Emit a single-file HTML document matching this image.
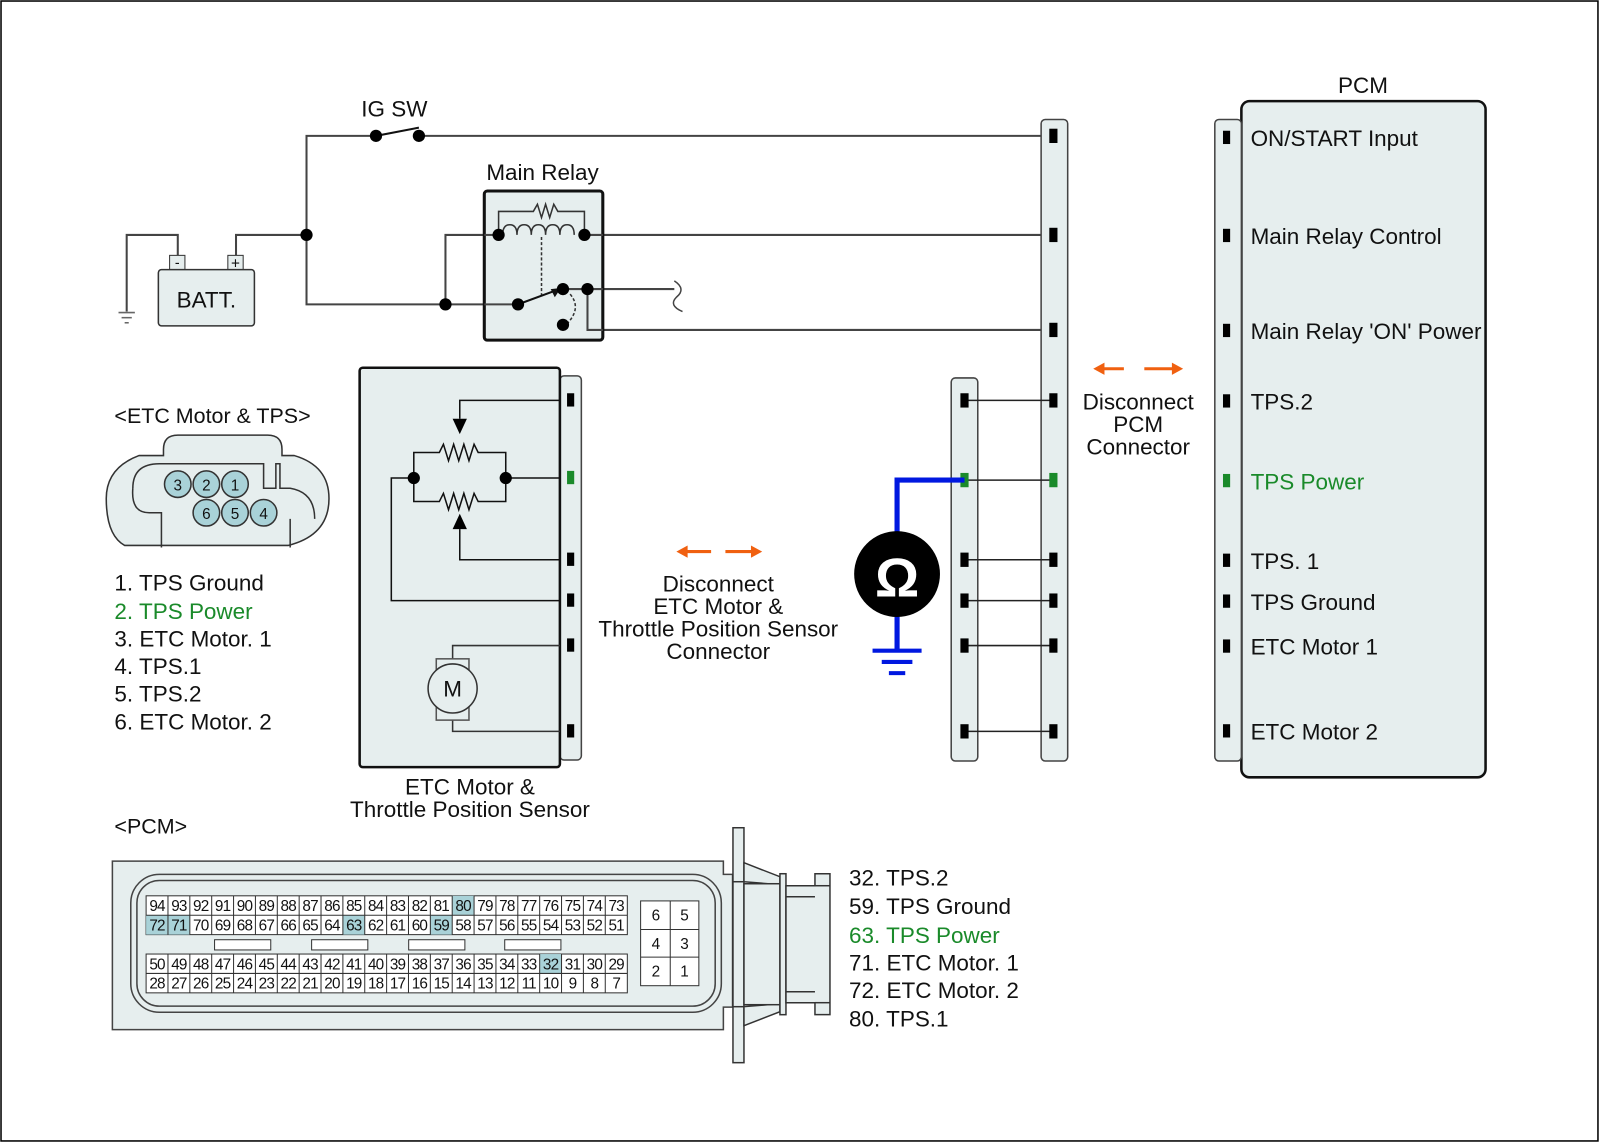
<!DOCTYPE html>
<html><head><meta charset="utf-8"><style>
html,body{margin:0;padding:0;background:#fff}
svg{display:block}
text{font-family:"Liberation Sans",Arial,sans-serif;fill:#111}
</style></head><body>
<svg width="1600" height="1143" viewBox="0 0 1566 1119" preserveAspectRatio="none" xmlns="http://www.w3.org/2000/svg">
<rect x="1" y="1" width="1563" height="1116" fill="#fff" stroke="#000" stroke-width="1.5"/>
<g fill="none" stroke="#444" stroke-width="2">
<polyline points="1030,133 410,133"/>
<polyline points="368,133 300,133 300,298 507,298"/>
<line x1="368" y1="133" x2="410" y2="125" stroke="#111"/>
<polyline points="300,230 231,230 231,252"/>
<polyline points="174,252 174,230 124,230 124,305"/>
<polyline points="436,298 436,230 488,230"/>
<line x1="572" y1="230" x2="1030" y2="230"/>
<polyline points="575,283 575,323 1030,323"/>
<polyline points="551,283 660,283"/>
</g>
<path d="M660,275 q12,8 2,16 q-8,8 6,14" fill="none" stroke="#444" stroke-width="1.5"/>
<g stroke="#666" stroke-width="1.5"><line x1="116" y1="306" x2="132" y2="306"/><line x1="119" y1="311" x2="129" y2="311"/><line x1="122" y1="316" x2="126" y2="316"/></g>
<rect x="166" y="250" width="15" height="15" fill="#e6eeee" stroke="#333"/>
<rect x="223" y="250" width="15" height="15" fill="#e6eeee" stroke="#333"/>
<text x="173.5" y="262" font-size="14" text-anchor="middle">-</text>
<text x="230.5" y="263" font-size="15" text-anchor="middle">+</text>
<rect x="155" y="264" width="94" height="55" rx="3" fill="#e6eeee" stroke="#333" stroke-width="1.5"/>
<text x="202" y="301" font-size="22" text-anchor="middle">BATT.</text>
<text x="386" y="114" font-size="22" text-anchor="middle">IG SW</text>
<text x="531" y="176" font-size="22" text-anchor="middle">Main Relay</text>
<rect x="474" y="187" width="116" height="146" rx="3" fill="#e6eeee" stroke="#111" stroke-width="3"/>
<g fill="none" stroke="#444" stroke-width="2">
<line x1="474" y1="230" x2="488" y2="230"/>
<line x1="572" y1="230" x2="590" y2="230"/>
<line x1="474" y1="298" x2="507" y2="298"/>
<line x1="551" y1="283" x2="590" y2="283"/>
<polyline points="575,283 575,323 590,323"/>
</g>
<g fill="none" stroke="#333" stroke-width="1.5">
<polyline points="488,230 488,207 522,207 526,200 530,213 534,200 538,213 542,200 546,207 572,207 572,230"/>
<path d="M492,230 q0,-10 7,-10 q7,0 7,10 q0,-10 7,-10 q7,0 7,10 q0,-10 7,-10 q7,0 7,10 q0,-10 7,-10 q7,0 7,10 q0,-10 7,-10 q7,0 7,10"/>
<line x1="530" y1="232" x2="530" y2="290" stroke-dasharray="3,2"/>
<path d="M558,288 q12,14 -4,30" stroke-dasharray="3,2"/>
<line x1="507" y1="298" x2="545" y2="284" stroke="#111" stroke-width="2"/>
</g>
<polygon points="549,282 539,283 543,291" fill="#111"/>
<g fill="#000">
<circle cx="368" cy="133" r="6"/><circle cx="410" cy="133" r="6"/>
<circle cx="300" cy="230" r="6"/><circle cx="436" cy="298" r="6"/>
<circle cx="488" cy="230" r="6"/><circle cx="572" cy="230" r="6"/>
<circle cx="507" cy="298" r="6"/><circle cx="551" cy="283" r="6"/>
<circle cx="575" cy="283" r="6"/><circle cx="551" cy="318" r="6"/>
</g>
<rect x="1019" y="117" width="26" height="628" rx="4" fill="#e6eeee" stroke="#444" stroke-width="1.5"/>
<rect x="931" y="370" width="26" height="375" rx="4" fill="#e6eeee" stroke="#444" stroke-width="1.5"/>
<g stroke="#222" stroke-width="1.5">
<line x1="944" y1="392" x2="1031" y2="392"/><line x1="944" y1="470" x2="1031" y2="470"/>
<line x1="944" y1="548" x2="1031" y2="548"/><line x1="944" y1="588" x2="1031" y2="588"/>
<line x1="944" y1="632" x2="1031" y2="632"/><line x1="944" y1="716" x2="1031" y2="716"/>
</g>
<g fill="#000">
<rect x="1027" y="126" width="8" height="14"/><rect x="1027" y="223" width="8" height="14"/>
<rect x="1027" y="316" width="8" height="14"/><rect x="1027" y="385" width="8" height="14"/>
<rect x="1027" y="541" width="8" height="14"/><rect x="1027" y="581" width="8" height="14"/>
<rect x="1027" y="625" width="8" height="14"/><rect x="1027" y="709" width="8" height="14"/>
<rect x="940" y="385" width="8" height="14"/><rect x="940" y="541" width="8" height="14"/>
<rect x="940" y="581" width="8" height="14"/><rect x="940" y="625" width="8" height="14"/>
<rect x="940" y="709" width="8" height="14"/>
</g>
<rect x="1027" y="463" width="8" height="14" fill="#1a8a2a"/>
<rect x="940" y="463" width="8" height="14" fill="#1a8a2a"/>
<polyline points="944,470 878,470 878,522" fill="none" stroke="#0018e0" stroke-width="5"/>
<line x1="878" y1="602" x2="878" y2="637" stroke="#0018e0" stroke-width="5"/>
<g stroke="#0018e0" stroke-width="4"><line x1="854" y1="637" x2="902" y2="637"/><line x1="863" y1="648" x2="893" y2="648"/><line x1="870" y1="659" x2="886" y2="659"/></g>
<circle cx="878" cy="562" r="42" fill="#000"/>
<text x="878" y="584" font-size="54" font-weight="bold" text-anchor="middle" style="fill:#fff">Ω</text>
<g stroke="#f06010" stroke-width="3">
<line x1="1078" y1="361" x2="1100" y2="361"/><line x1="1120" y1="361" x2="1150" y2="361"/>
<line x1="670" y1="540" x2="696" y2="540"/><line x1="710" y1="540" x2="738" y2="540"/>
</g>
<g fill="#f06010">
<polygon points="1070,361 1081,355 1081,367"/><polygon points="1158,361 1147,355 1147,367"/>
<polygon points="662,540 673,534 673,546"/><polygon points="746,540 735,534 735,546"/>
</g>
<g font-size="22" text-anchor="middle">
<text x="1114" y="401">Disconnect</text><text x="1114" y="423">PCM</text><text x="1114" y="445">Connector</text>
<text x="703" y="579">Disconnect</text><text x="703" y="601">ETC Motor &amp;</text><text x="703" y="623">Throttle Position Sensor</text><text x="703" y="645">Connector</text>
<text x="460" y="778">ETC Motor &amp;</text><text x="460" y="800">Throttle Position Sensor</text>
</g>
<text x="1334" y="91" font-size="22" text-anchor="middle">PCM</text>
<rect x="1215" y="99" width="239" height="662" rx="8" fill="#e6eeee" stroke="#111" stroke-width="2.5"/>
<rect x="1189" y="117" width="26" height="628" rx="4" fill="#e6eeee" stroke="#444" stroke-width="1.5"/>
<g fill="#000">
<rect x="1197" y="128" width="7" height="13"/><rect x="1197" y="224" width="7" height="13"/>
<rect x="1197" y="317" width="7" height="13"/><rect x="1197" y="386" width="7" height="13"/>
<rect x="1197" y="542" width="7" height="13"/><rect x="1197" y="582" width="7" height="13"/>
<rect x="1197" y="626" width="7" height="13"/><rect x="1197" y="709" width="7" height="13"/>
</g>
<rect x="1197" y="464" width="7" height="13" fill="#1a8a2a"/>
<g font-size="22">
<text x="1224" y="143">ON/START Input</text><text x="1224" y="239">Main Relay Control</text>
<text x="1224" y="332">Main Relay 'ON' Power</text><text x="1224" y="401">TPS.2</text>
<text x="1224" y="479" style="fill:#1a8a2a">TPS Power</text><text x="1224" y="557">TPS. 1</text>
<text x="1224" y="597">TPS Ground</text><text x="1224" y="641">ETC Motor 1</text>
<text x="1224" y="724">ETC Motor 2</text>
</g>
<rect x="548" y="368" width="21" height="376" rx="4" fill="#e6eeee" stroke="#444" stroke-width="1.5"/>
<rect x="352" y="360" width="196" height="391" rx="3" fill="#e6eeee" stroke="#111" stroke-width="2.5"/>
<g fill="none" stroke="#111" stroke-width="1.5">
<polyline points="548,392 450,392 450,410"/>
<polyline points="450,518 450,548 548,548"/>
<polyline points="405,468 383,468 383,588 548,588"/>
<line x1="495" y1="468" x2="548" y2="468"/>
<polyline points="405,468 405,443 430,443 434,435 439,451 444,435 449,451 454,435 459,451 464,435 468,443 495,443 495,468"/>
<polyline points="405,468 405,491 430,491 434,483 439,499 444,483 449,499 454,483 459,499 464,483 468,491 495,491 495,468"/>
<polyline points="443,645 443,632 548,632" stroke="#333"/>
<polyline points="443,705 443,716 548,716" stroke="#333"/>
</g>
<polygon points="443,410 457,410 450,425" fill="#000"/>
<polygon points="443,518 457,518 450,503" fill="#000"/>
<circle cx="405" cy="468" r="6" fill="#000"/><circle cx="495" cy="468" r="6" fill="#000"/>
<rect x="427" y="645" width="32" height="60" fill="none" stroke="#555" stroke-width="1.5"/>
<circle cx="443" cy="674" r="24" fill="#e6eeee" stroke="#333" stroke-width="1.5"/>
<text x="443" y="682" font-size="22" text-anchor="middle">M</text>
<g fill="#000">
<rect x="555" y="385" width="7" height="13"/><rect x="555" y="541" width="7" height="13"/>
<rect x="555" y="581" width="7" height="13"/><rect x="555" y="625" width="7" height="13"/>
<rect x="555" y="709" width="7" height="13"/>
</g>
<rect x="555" y="461" width="7" height="13" fill="#1a8a2a"/>
<text x="112" y="414" font-size="21">&lt;ETC Motor &amp; TPS&gt;</text>
<path d="M160,440 q0,-14 14,-14 h88 q14,0 14,14 v6 h12 q34,10 34,42 q0,36 -40,46 h-160 q-18,-10 -18,-46 q0,-30 32,-42 h24 z" fill="#e6eeee" stroke="#333" stroke-width="1.5"/>
<path d="M130,478 q0,-24 26,-24 h102 v24 h12 v-24 h4 v24 h10 q24,4 24,30 M130,478 q-2,24 16,24 h12 v34 M284,508 v28" fill="none" stroke="#333" stroke-width="1.5"/>
<g fill="#a9d2d8" stroke="#333" stroke-width="1.5">
<circle cx="174" cy="474" r="13"/><circle cx="202" cy="474" r="13"/><circle cx="230" cy="474" r="13"/>
<circle cx="202" cy="502" r="13"/><circle cx="230" cy="502" r="13"/><circle cx="258" cy="502" r="13"/>
</g>
<g font-size="15" text-anchor="middle">
<text x="174" y="480">3</text><text x="202" y="480">2</text><text x="230" y="480">1</text>
<text x="202" y="508">6</text><text x="230" y="508">5</text><text x="258" y="508">4</text>
</g>
<g font-size="22">
<text x="112" y="578">1. TPS Ground</text><text x="112" y="606" style="fill:#1a8a2a">2. TPS Power</text>
<text x="112" y="633">3. ETC Motor. 1</text><text x="112" y="660">4. TPS.1</text>
<text x="112" y="687">5. TPS.2</text><text x="112" y="714">6. ETC Motor. 2</text>
</g>
<text x="112" y="816" font-size="21">&lt;PCM&gt;</text>
<path d="M110,843 h598 v13 h9 v130 h-9 v22 h-598 z" fill="#e6eeee" stroke="#444" stroke-width="1.5"/>
<rect x="128" y="856" width="578" height="135" rx="28" fill="none" stroke="#444" stroke-width="1.5"/>
<rect x="134" y="862" width="566" height="123" rx="22" fill="none" stroke="#444" stroke-width="1.5"/>
<g transform="scale(0.9787)" stroke="#333" stroke-width="1.5" fill="#e6eeee">
<rect x="733" y="828" width="11" height="235"/>
<line x1="733" y1="882" x2="744" y2="882"/><line x1="733" y1="1007" x2="744" y2="1007"/>
<path d="M744,863 L780,877 V885 L744,882 Z"/>
<path d="M744,1026 L780,1012 V1004 L744,1007 Z"/>
<rect x="744" y="884" width="36" height="121"/>
<rect x="780" y="874" width="6" height="141"/>
<path d="M786,886 H815 V874 H830 V1015 H815 V1003 H786 Z"/>
<line x1="786" y1="897" x2="815" y2="897"/><line x1="815" y1="886" x2="830" y2="886"/>
<line x1="786" y1="992" x2="815" y2="992"/><line x1="815" y1="1003" x2="830" y2="1003"/>
</g>
<g font-size="22">
<text x="831" y="867">32. TPS.2</text><text x="831" y="895">59. TPS Ground</text>
<text x="831" y="923" style="fill:#1a8a2a">63. TPS Power</text><text x="831" y="950">71. ETC Motor. 1</text>
<text x="831" y="977">72. ETC Motor. 2</text><text x="831" y="1005">80. TPS.1</text>
</g>
<rect x="143" y="877" width="471" height="38" fill="#fff" stroke="#333"/>
<rect x="143" y="934" width="471" height="38" fill="#fff" stroke="#333"/>
<rect x="442.6" y="877" width="21.4" height="19" fill="#a9d2d8"/>
<rect x="143" y="896" width="42.8" height="19" fill="#a9d2d8"/>
<rect x="335.6" y="896" width="21.4" height="19" fill="#a9d2d8"/>
<rect x="421.2" y="896" width="21.4" height="19" fill="#a9d2d8"/>
<rect x="528.2" y="934" width="21.4" height="19" fill="#a9d2d8"/>
<g fill="#fff" stroke="#333"><rect x="210" y="920" width="55" height="10"/><rect x="305" y="920" width="55" height="10"/><rect x="400" y="920" width="55" height="10"/><rect x="494" y="920" width="55" height="10"/></g>
<rect x="627" y="882" width="57" height="83" fill="#fff" stroke="#333"/>
<g stroke="#333"><line x1="656" y1="882" x2="656" y2="965"/><line x1="627" y1="910" x2="684" y2="910"/><line x1="627" y1="937" x2="684" y2="937"/></g>
<g font-size="15" text-anchor="middle"><text x="642" y="901">6</text><text x="670" y="901">5</text><text x="642" y="929">4</text><text x="670" y="929">3</text><text x="642" y="956">2</text><text x="670" y="956">1</text></g>
<g stroke="#333" stroke-width="1">
<line x1="143" y1="896" x2="614" y2="896"/><line x1="143" y1="953" x2="614" y2="953"/>
<line x1="164.4" y1="877" x2="164.4" y2="915"/><line x1="185.8" y1="877" x2="185.8" y2="915"/><line x1="207.2" y1="877" x2="207.2" y2="915"/><line x1="228.6" y1="877" x2="228.6" y2="915"/><line x1="250" y1="877" x2="250" y2="915"/><line x1="271.4" y1="877" x2="271.4" y2="915"/><line x1="292.8" y1="877" x2="292.8" y2="915"/><line x1="314.2" y1="877" x2="314.2" y2="915"/><line x1="335.6" y1="877" x2="335.6" y2="915"/><line x1="357" y1="877" x2="357" y2="915"/><line x1="378.4" y1="877" x2="378.4" y2="915"/><line x1="399.8" y1="877" x2="399.8" y2="915"/><line x1="421.2" y1="877" x2="421.2" y2="915"/><line x1="442.6" y1="877" x2="442.6" y2="915"/><line x1="464" y1="877" x2="464" y2="915"/><line x1="485.4" y1="877" x2="485.4" y2="915"/><line x1="506.8" y1="877" x2="506.8" y2="915"/><line x1="528.2" y1="877" x2="528.2" y2="915"/><line x1="549.6" y1="877" x2="549.6" y2="915"/><line x1="571" y1="877" x2="571" y2="915"/><line x1="592.4" y1="877" x2="592.4" y2="915"/>
<line x1="164.4" y1="934" x2="164.4" y2="972"/><line x1="185.8" y1="934" x2="185.8" y2="972"/><line x1="207.2" y1="934" x2="207.2" y2="972"/><line x1="228.6" y1="934" x2="228.6" y2="972"/><line x1="250" y1="934" x2="250" y2="972"/><line x1="271.4" y1="934" x2="271.4" y2="972"/><line x1="292.8" y1="934" x2="292.8" y2="972"/><line x1="314.2" y1="934" x2="314.2" y2="972"/><line x1="335.6" y1="934" x2="335.6" y2="972"/><line x1="357" y1="934" x2="357" y2="972"/><line x1="378.4" y1="934" x2="378.4" y2="972"/><line x1="399.8" y1="934" x2="399.8" y2="972"/><line x1="421.2" y1="934" x2="421.2" y2="972"/><line x1="442.6" y1="934" x2="442.6" y2="972"/><line x1="464" y1="934" x2="464" y2="972"/><line x1="485.4" y1="934" x2="485.4" y2="972"/><line x1="506.8" y1="934" x2="506.8" y2="972"/><line x1="528.2" y1="934" x2="528.2" y2="972"/><line x1="549.6" y1="934" x2="549.6" y2="972"/><line x1="571" y1="934" x2="571" y2="972"/><line x1="592.4" y1="934" x2="592.4" y2="972"/>
</g>
<g font-size="15" text-anchor="middle" letter-spacing="-0.8">
<text y="892"><tspan x="153.7">94</tspan><tspan x="175.1">93</tspan><tspan x="196.5">92</tspan><tspan x="217.9">91</tspan><tspan x="239.3">90</tspan><tspan x="260.7">89</tspan><tspan x="282.1">88</tspan><tspan x="303.5">87</tspan><tspan x="324.9">86</tspan><tspan x="346.3">85</tspan><tspan x="367.7">84</tspan><tspan x="389.1">83</tspan><tspan x="410.5">82</tspan><tspan x="431.9">81</tspan><tspan x="453.3">80</tspan><tspan x="474.7">79</tspan><tspan x="496.1">78</tspan><tspan x="517.5">77</tspan><tspan x="538.9">76</tspan><tspan x="560.3">75</tspan><tspan x="581.7">74</tspan><tspan x="603.1">73</tspan></text>
<text y="911"><tspan x="153.7">72</tspan><tspan x="175.1">71</tspan><tspan x="196.5">70</tspan><tspan x="217.9">69</tspan><tspan x="239.3">68</tspan><tspan x="260.7">67</tspan><tspan x="282.1">66</tspan><tspan x="303.5">65</tspan><tspan x="324.9">64</tspan><tspan x="346.3">63</tspan><tspan x="367.7">62</tspan><tspan x="389.1">61</tspan><tspan x="410.5">60</tspan><tspan x="431.9">59</tspan><tspan x="453.3">58</tspan><tspan x="474.7">57</tspan><tspan x="496.1">56</tspan><tspan x="517.5">55</tspan><tspan x="538.9">54</tspan><tspan x="560.3">53</tspan><tspan x="581.7">52</tspan><tspan x="603.1">51</tspan></text>
<text y="949"><tspan x="153.7">50</tspan><tspan x="175.1">49</tspan><tspan x="196.5">48</tspan><tspan x="217.9">47</tspan><tspan x="239.3">46</tspan><tspan x="260.7">45</tspan><tspan x="282.1">44</tspan><tspan x="303.5">43</tspan><tspan x="324.9">42</tspan><tspan x="346.3">41</tspan><tspan x="367.7">40</tspan><tspan x="389.1">39</tspan><tspan x="410.5">38</tspan><tspan x="431.9">37</tspan><tspan x="453.3">36</tspan><tspan x="474.7">35</tspan><tspan x="496.1">34</tspan><tspan x="517.5">33</tspan><tspan x="538.9">32</tspan><tspan x="560.3">31</tspan><tspan x="581.7">30</tspan><tspan x="603.1">29</tspan></text>
<text y="968"><tspan x="153.7">28</tspan><tspan x="175.1">27</tspan><tspan x="196.5">26</tspan><tspan x="217.9">25</tspan><tspan x="239.3">24</tspan><tspan x="260.7">23</tspan><tspan x="282.1">22</tspan><tspan x="303.5">21</tspan><tspan x="324.9">20</tspan><tspan x="346.3">19</tspan><tspan x="367.7">18</tspan><tspan x="389.1">17</tspan><tspan x="410.5">16</tspan><tspan x="431.9">15</tspan><tspan x="453.3">14</tspan><tspan x="474.7">13</tspan><tspan x="496.1">12</tspan><tspan x="517.5">11</tspan><tspan x="538.9">10</tspan><tspan x="560.3">9</tspan><tspan x="581.7">8</tspan><tspan x="603.1">7</tspan></text>
</g>
</svg>
</body></html>
